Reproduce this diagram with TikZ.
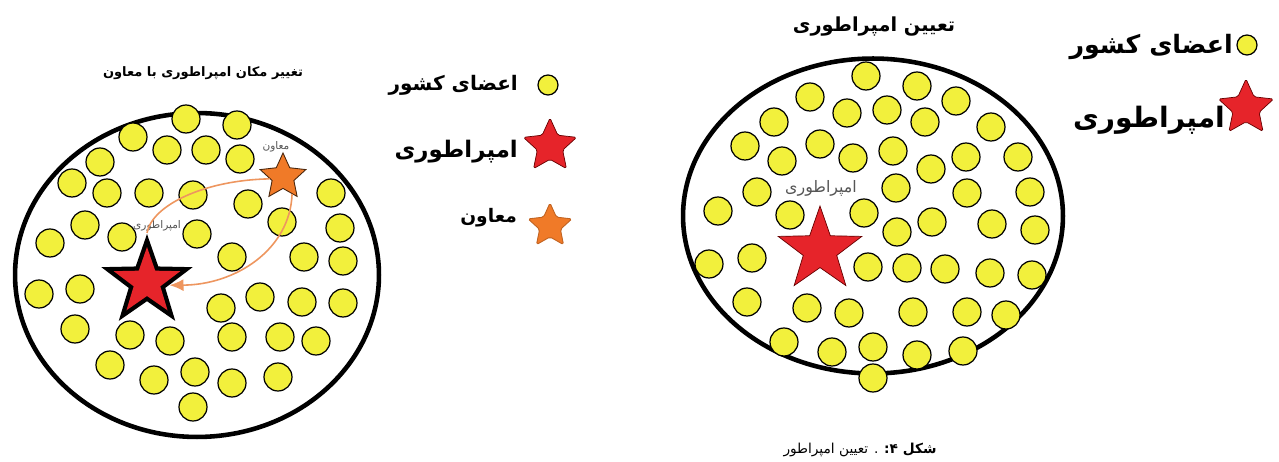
\documentclass[tikz,border=0pt]{standalone}
\usepackage{fontspec}
\usepackage{tikz}
\usetikzlibrary{shapes.geometric, arrows.meta, positioning}
\TeXXeTstate=1
\newfontfamily\arabicfont[Script=Arabic]{DejaVu Sans}
\definecolor{dotyellow}{RGB}{242,240,60}
\definecolor{empred}{RGB}{230,36,42}
\definecolor{viceorange}{RGB}{240,122,40}
\definecolor{arroworange}{RGB}{238,150,95}
\definecolor{labelgray}{RGB}{85,85,85}
\tikzset{
  member/.style={draw, circle, fill=dotyellow, line width=0.7pt, minimum size=0.56cm, inner sep=0pt},
  ring/.style={draw, ellipse, line width=2.6pt, inner sep=0pt},
  starshape/.style={star, star points=5, star point ratio=2.5, inner sep=0pt},
  emperor/.style={starshape, fill=empred, draw=black!60!red, line width=0.4pt},
  vice/.style={starshape, star point ratio=2.1, fill=viceorange, draw=black!70!viceorange, line width=0.5pt},
  move/.style={draw=arroworange, line width=0.9pt},
  legtext/.style={anchor=east, font=\arabicfont\bfseries\fontsize{13}{15}\selectfont},
  tag/.style={text=labelgray, font=\arabicfont\fontsize{6}{7}\selectfont}
}
\begin{document}
\begin{tikzpicture}[x=0.02cm, y=-0.02cm]
\useasboundingbox (0,0) rectangle (1279,462);
\fill[white] (0,0) rectangle (1279,462);

% Left panel
\node[font=\arabicfont\bfseries\fontsize{7.4}{9}\selectfont] (ltitle) at (203,73) {\beginR تغییر مکان امپراطوری با معاون\endR};
\node[ring, minimum width=7.28cm, minimum height=6.48cm] (lring) at (197,275) {};
\foreach \x/\y [count=\i] in {186/119, 237/125, 133/137, 167/150, 206/150, 240/159, 100/162, 72/183, 107/193, 149/193, 193/195, 248/204, 331/193, 85/225, 122/237, 197/234, 282/222, 340/228, 50/243, 232/257, 304/257, 343/261, 39/294, 80/289, 221/308, 260/297, 302/302, 343/303, 75/329, 130/335, 170/341, 232/337, 280/337, 316/341, 110/365, 154/380, 195/372, 232/383, 278/377, 193/407}
  \node[member] (lm\i) at (\x,\y) {};

\node[starshape, fill=black, minimum size=1.92cm] (lempout) at (147,282) {};
\node[starshape, fill=empred, minimum size=1.4cm] (lemp) at (147,282) {};
\node[vice, minimum size=0.96cm] (lvice) at (283,177) {};
\node[tag] (lvicetag) at (276,147) {\beginR معاون\endR};
\node[tag] (lemptag) at (157,226) {\beginR امپراطوری\endR};

% Moving the vice into place
\draw[move] (lvice.188) .. controls (205,180) and (152,205) .. (lempout.north);
\draw[move, -{Latex[length=2.8mm, width=2.4mm]}] (lvice.-62) .. controls (290,250) and (235,285) .. (lempout.-8);

% Left legend
\node[member, minimum size=0.4cm] (lkeydot) at (548,85) {};
\node[emperor, rounded corners=1pt, star point ratio=2.1, minimum size=1.12cm] (lkeyemp) at (550,146) {};
\node[vice, rounded corners=1pt, draw=viceorange!80!black, minimum size=0.92cm] (lkeyvice) at (550,226) {};
\node[legtext, font=\arabicfont\bfseries\fontsize{11.4}{14}\selectfont] (lkeytxt1) at (524,85) {\beginR اعضای کشور\endR};
\node[legtext] (lkeytxt2) at (524,152) {\beginR امپراطوری\endR};
\node[legtext, font=\arabicfont\bfseries\fontsize{10.6}{13}\selectfont] (lkeytxt3) at (523,218) {\beginR معاون\endR};

% Right panel
\node[font=\arabicfont\bfseries\fontsize{11}{13}\selectfont] (rtitle) at (874,27) {\beginR تعیین امپراطوری\endR};
\node[ring, minimum width=7.6cm, minimum height=6.3cm] (rring) at (873,216) {};
\foreach \x/\y [count=\i] in {866/76, 917/86, 810/97, 956/101, 847/113, 887/110, 925/122, 774/122, 991/127, 745/146, 820/144, 782/161, 853/158, 893/151, 966/157, 1018/157, 931/169, 757/192, 896/188, 967/193, 1030/192, 718/211, 790/215, 864/213, 897/232, 932/222, 992/224, 1035/230, 709/264, 752/258, 868/267, 907/268, 945/269, 990/273, 1032/275, 747/302, 807/308, 849/313, 913/312, 967/312, 1006/315, 784/342, 832/352, 873/347, 917/355, 963/351, 873/378}
  \node[member] (rm\i) at (\x,\y) {};
\node[emperor, minimum size=1.76cm] (remp) at (820,250) {};
\node[tag, font=\arabicfont\fontsize{9}{10}\selectfont] (remptag) at (821,188) {\beginR امپراطوری\endR};

% Right legend
\node[member, minimum size=0.4cm] (rkeydot) at (1247,45) {};
\node[emperor, rounded corners=1pt, star point ratio=2.1, minimum size=1.16cm] (rkeyemp) at (1246,108) {};
\node[legtext, font=\arabicfont\bfseries\fontsize{14.4}{17}\selectfont] (rkeytxt1) at (1239,47) {\beginR اعضای کشور\endR};
\node[legtext, font=\arabicfont\bfseries\fontsize{16}{18}\selectfont] (rkeytxt2) at (1231,120) {\beginR امپراطوری\endR};

% Caption
\node[font=\arabicfont\fontsize{7.8}{10}\selectfont] (caption) at (860,450) {\beginR\textbf{شکل ۴:} . تعیین امپراطور\endR};

\end{tikzpicture}
\end{document}
